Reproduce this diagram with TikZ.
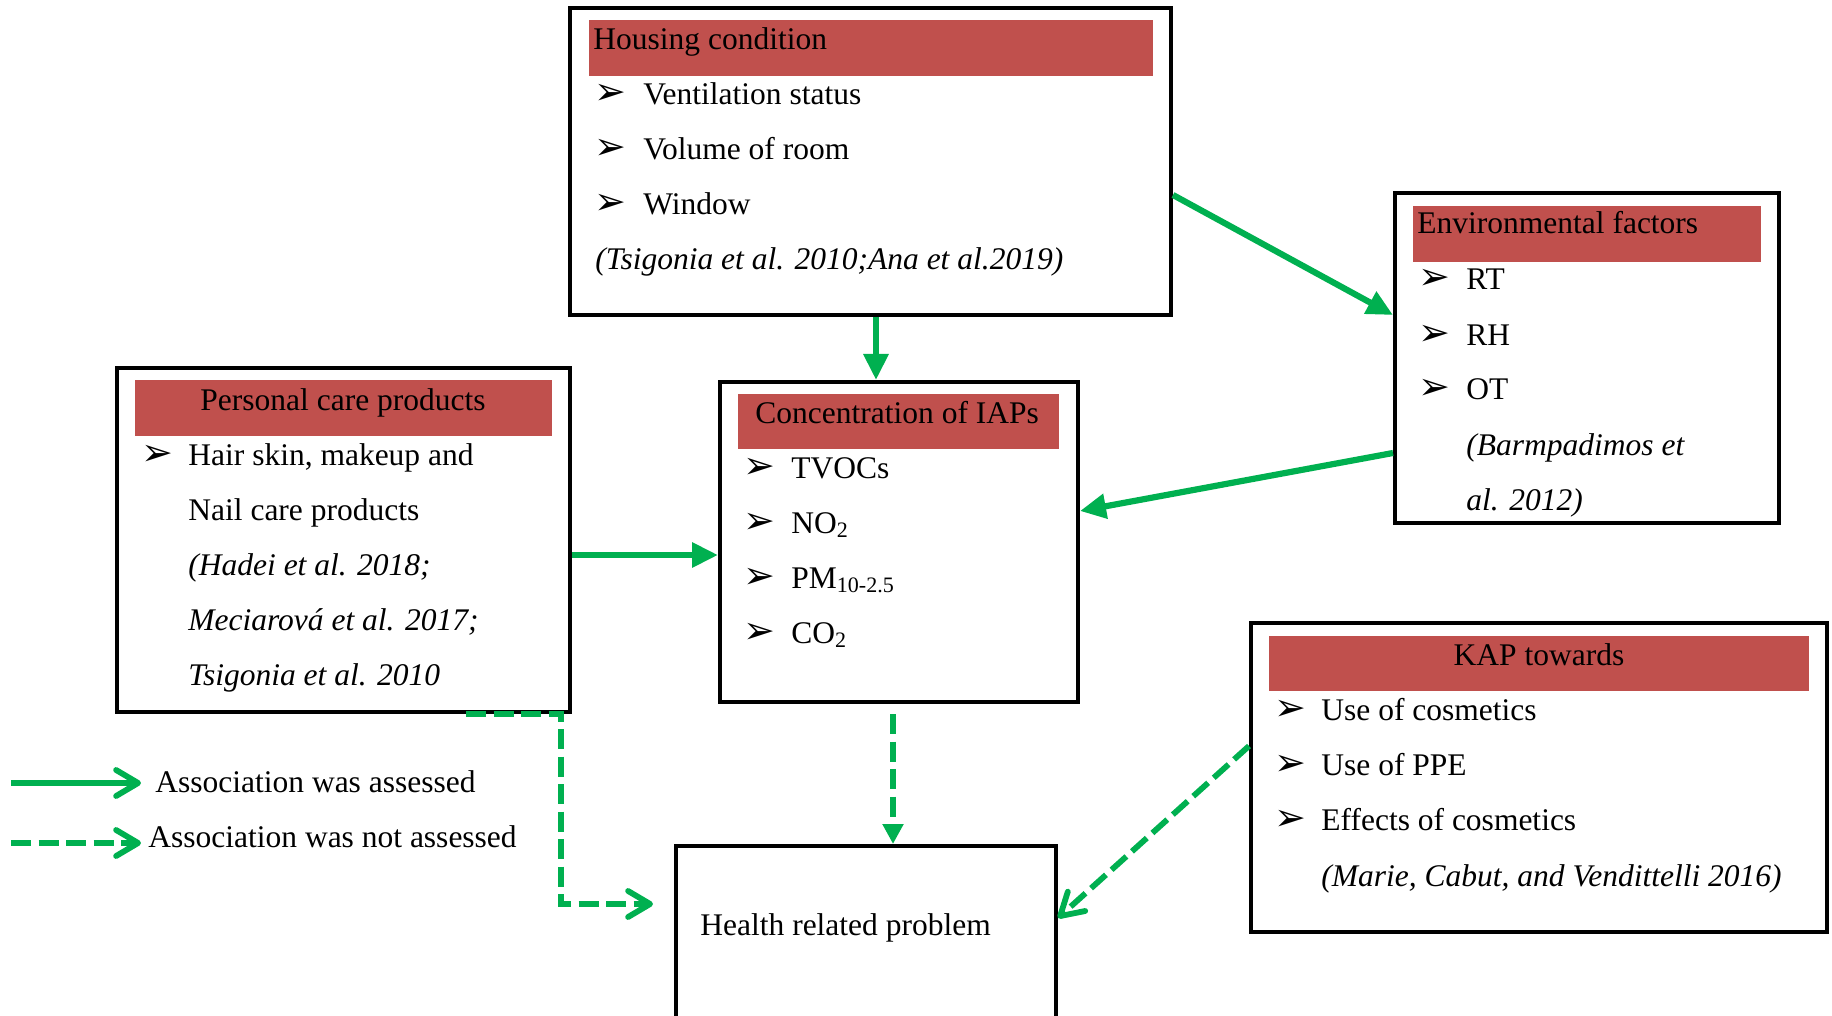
\documentclass[tikz,border=0pt]{standalone}
\usepackage{fontspec}
\setmainfont{Liberation Serif}
\newfontfamily\dejavu{DejaVu Sans}
\usetikzlibrary{arrows.meta,fit}
\definecolor{grn}{HTML}{00B050}
\definecolor{hdrred}{HTML}{C0504D}
\newcommand\mainsz{\fontsize{15.75pt}{19pt}\selectfont}
\begin{document}
\begin{tikzpicture}[x=0.5pt,y=-0.5pt,
  box/.style={draw=black, line width=2pt, inner sep=0pt},
  hdr/.style={fill=hdrred, draw=none, inner sep=0pt},
  txt/.style={anchor=base west, inner sep=0pt, font=\mainsz},
  cite/.style={anchor=base west, inner sep=0pt, font=\mainsz\itshape},
  hdtxt/.style={anchor=base, inner sep=0pt, font=\mainsz},
  bul/.style={anchor=base west, inner sep=0pt, font=\dejavu\fontsize{19pt}{21pt}\selectfont},
  assessed/.style={draw=grn, line width=3.1pt, -{Triangle[length=13pt,width=12pt]}},
  notassessed/.style={draw=grn, line width=2.9pt, dash pattern=on 10pt off 3.75pt, -{Straight Barb[length=11pt,width=13pt,round]}},
  notassessedtri/.style={draw=grn, line width=2.9pt, dash pattern=on 10pt off 3.75pt, -{Triangle[length=10pt,width=10pt]}},
  legsolid/.style={draw=grn, line width=2.9pt, -{Straight Barb[length=11pt,width=13pt,round]}}
]
\useasboundingbox (0,0) rectangle (1832,1016);

% Housing condition
\node[hdr, fit={(589,20) (1153,76)}] (housinghdr) {};
\node[box, fit={(570,8) (1171,315)}] (housing) {};
\node[txt] (housingtitle) at (593,50) {Housing condition};
\node[bul] (hb1) at (594,105) {➢};
\node[txt] (ht1) at (643,105) {Ventilation status};
\node[bul] (hb2) at (594,160) {➢};
\node[txt] (ht2) at (643,160) {Volume of room};
\node[bul] (hb3) at (594,215) {➢};
\node[txt] (ht3) at (643,215) {Window};
\node[cite] (hcite) at (595,270) {(Tsigonia et al. 2010;Ana et al.2019)};

% Environmental factors
\node[hdr, fit={(1413,206) (1761,262)}] (envhdr) {};
\node[box, fit={(1395,193) (1779,523)}] (env) {};
\node[txt] (envtitle) at (1417,234) {Environmental factors};
\node[bul] (eb1) at (1418,290) {➢};
\node[txt] (et1) at (1466,290) {RT};
\node[bul] (eb2) at (1418,345) {➢};
\node[txt] (et2) at (1466,345) {RH};
\node[bul] (eb3) at (1418,400) {➢};
\node[txt] (et3) at (1466,400) {OT};
\node[cite] (ecite1) at (1466,455) {(Barmpadimos et};
\node[cite] (ecite2) at (1466,510) {al. 2012)};

% Personal care products
\node[hdr, fit={(135,380) (552,436)}] (pershdr) {};
\node[box, fit={(117,368) (570,712)}] (pers) {};
\node[hdtxt] (perstitle) at (343,410) {Personal care products};
\node[bul] (pb1) at (141,465) {➢};
\node[txt] (pt1) at (188,465) {Hair skin, makeup and};
\node[txt] (pt2) at (188,520) {Nail care products};
\node[cite] (pcite1) at (188,575) {(Hadei et al. 2018;};
\node[cite] (pcite2) at (188,630) {Meciarová et al. 2017;};
\node[cite] (pcite3) at (188,685) {Tsigonia et al. 2010};

% Concentration of IAPs
\node[hdr, fit={(738,394) (1059,449)}] (conchdr) {};
\node[box, fit={(720,382) (1078,702)}] (conc) {};
\node[txt] (conctitle) at (755,423) {Concentration of IAPs};
\node[bul] (cb1) at (743,478) {➢};
\node[txt] (ct1) at (791,478) {TVOCs};
\node[bul] (cb2) at (743,533) {➢};
\node[txt] (ct2) at (791,533) {NO\textsubscript{2}};
\node[bul] (cb3) at (743,588) {➢};
\node[txt] (ct3) at (791,588) {PM\textsubscript{10-2.5}};
\node[bul] (cb4) at (743,643) {➢};
\node[txt] (ct4) at (791,643) {CO\textsubscript{2}};

% Health related problem
\node[box, fit={(676,846) (1056,1040)}] (health) {};
\node[txt] (healthtxt) at (700,935) {Health related problem};

% KAP towards
\node[hdr, fit={(1269,636) (1809,691)}] (kaphdr) {};
\node[box, fit={(1251,623) (1827,932)}] (kap) {};
\node[hdtxt] (kaptitle) at (1539,665) {KAP towards};
\node[bul] (kb1) at (1274,720) {➢};
\node[txt] (kt1) at (1321,720) {Use of cosmetics};
\node[bul] (kb2) at (1274,775) {➢};
\node[txt] (kt2) at (1321,775) {Use of PPE};
\node[bul] (kb3) at (1274,830) {➢};
\node[txt] (kt3) at (1321,830) {Effects of cosmetics};
\node[cite] (kcite) at (1321,886) {(Marie, Cabut, and Vendittelli 2016)};

% Connectors
\draw[assessed] (housing.east |- 0,195) -- (env.west |- 0,315);
\draw[assessed] (housing.south -| 876,0) -- (conc.north -| 876,0);
\draw[assessed] (env.west |- 0,453) -- (conc.east |- 0,511);
\draw[assessed] (pers.east |- 0,555) -- (conc.west |- 0,555);
\draw[notassessedtri, shorten <=5pt] (conc.south -| 893,0) -- (health.north -| 893,0);
\draw[notassessed, shorten >=10.5pt] (pers.south -| 466,0) -- (pers.south -| 561,0) |- (health.west |- 0,904);
\draw[notassessed] (kap.west |- 0,746) -- (health.east |- 0,918);

% Legend
\coordinate (leg1s) at (11,783);
\coordinate (leg1e) at (141,783);
\draw[legsolid] (leg1s) -- (leg1e);
\node[txt] (leg1t) at (155,792) {Association was assessed};
\coordinate (leg2s) at (11,843);
\coordinate (leg2e) at (141,843);
\draw[notassessed] (leg2s) -- (leg2e);
\node[txt] (leg2t) at (148,847) {Association was not assessed};
\end{tikzpicture}
\end{document}
